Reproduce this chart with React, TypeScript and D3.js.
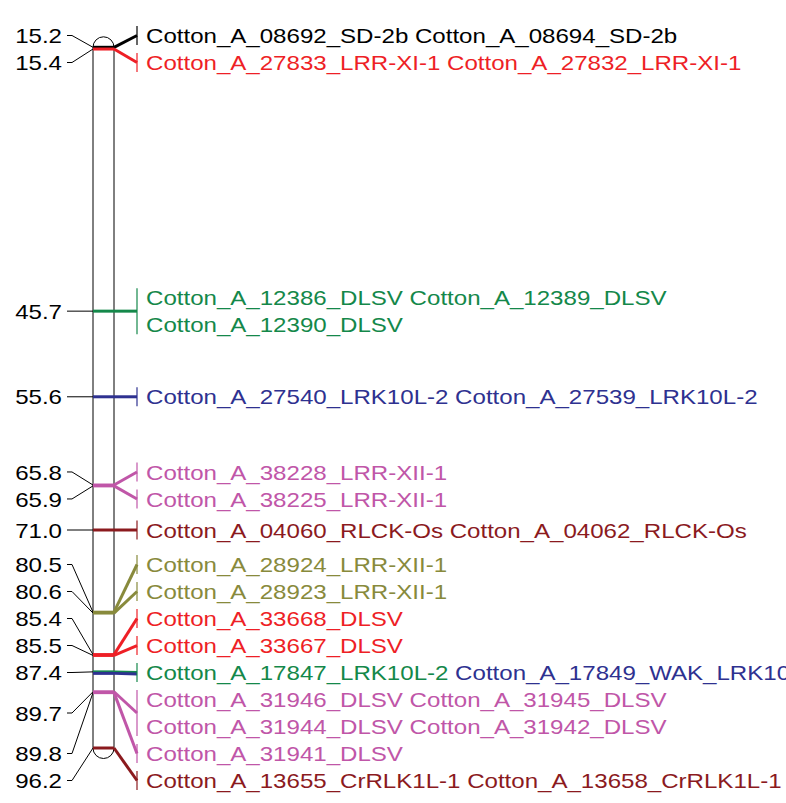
import * as d3 from 'd3';

const WIDTH = 786;
const HEIGHT = 803;
const LINE_H = 27;
const FONT = '"Liberation Sans", Arial, sans-serif';
const FONT_SIZE = 21;
const STRETCH = 1.147;

const CHROM = { left: 93, right: 114, labelX: 137, textX: 146, numX: 62 };

// marker positions (cM)
const positions = [15.2, 15.4, 45.7, 55.6, 65.8, 65.9, 71.0, 80.5, 80.6, 85.4, 85.5, 87.4, 89.7, 89.8, 96.2];

const geneNames: string[][] = [
  ['Cotton_A_08692_SD-2b', 'Cotton_A_08694_SD-2b'],
  ['Cotton_A_27833_LRR-XI-1', 'Cotton_A_27832_LRR-XI-1'],
  ['Cotton_A_12386_DLSV', 'Cotton_A_12389_DLSV', 'Cotton_A_12390_DLSV'],
  ['Cotton_A_27540_LRK10L-2', 'Cotton_A_27539_LRK10L-2'],
  ['Cotton_A_38228_LRR-XII-1'],
  ['Cotton_A_38225_LRR-XII-1'],
  ['Cotton_A_04060_RLCK-Os', 'Cotton_A_04062_RLCK-Os'],
  ['Cotton_A_28924_LRR-XII-1'],
  ['Cotton_A_28923_LRR-XII-1'],
  ['Cotton_A_33668_DLSV'],
  ['Cotton_A_33667_DLSV'],
  ['Cotton_A_17847_LRK10L-2', 'Cotton_A_17849_WAK_LRK10L-2'],
  ['Cotton_A_31946_DLSV', 'Cotton_A_31945_DLSV', 'Cotton_A_31944_DLSV', 'Cotton_A_31942_DLSV'],
  ['Cotton_A_31941_DLSV'],
  ['Cotton_A_13655_CrRLK1L-1', 'Cotton_A_13658_CrRLK1L-1'],
];

const geneGroups: string[][] = [
  ['black', 'black'],
  ['red', 'red'],
  ['green', 'green', 'green'],
  ['navy', 'navy'],
  ['pink'],
  ['pink'],
  ['maroon', 'maroon'],
  ['olive'],
  ['olive'],
  ['red'],
  ['red'],
  ['green', 'navy'],
  ['pink', 'pink', 'pink', 'pink'],
  ['pink'],
  ['maroon', 'maroon'],
];

const colorScale = d3
  .scaleOrdinal<string, string>()
  .domain(['black', 'red', 'green', 'navy', 'pink', 'maroon', 'olive'])
  .range(['#000000', '#ee1f26', '#14884a', '#2e3190', '#c056a8', '#8b1a1e', '#888a3c']);

const GENES_PER_LINE = 2;

function chunk<T>(arr: T[], n: number) {
  const out: T[][] = [];
  for (let i = 0; i < arr.length; i += n) out.push(arr.slice(i, i + n));
  return out;
}

// spread label groups so they don't overlap, each cluster centred on the mean of its ideals
function layoutLabels(ideals: number[], heights: number[], minTop: number, maxBottom: number) {
  type Cluster = { items: number[]; top: number; height: number; sum: number };
  const clusters: Cluster[] = [];
  ideals.forEach((ideal, i) => {
    let c: Cluster = { items: [i], top: ideal - heights[i] / 2, height: heights[i], sum: ideal - heights[i] / 2 };
    while (clusters.length) {
      const prev = clusters[clusters.length - 1];
      if (prev.top + prev.height <= c.top) break;
      clusters.pop();
      // offset of c's items inside the merged cluster is prev.height
      const sum = prev.sum + c.sum - c.items.length * prev.height;
      const items = prev.items.concat(c.items);
      c = { items, height: prev.height + c.height, sum, top: sum / items.length };
    }
    clusters.push(c);
  });
  const tops: number[] = [];
  clusters.forEach((c) => {
    let top = Math.max(minTop, Math.min(c.top, maxBottom - c.height));
    c.items.forEach((i) => {
      tops[i] = top;
      top += heights[i];
    });
  });
  return tops;
}

export default function App() {
  const y = d3.scaleLinear().domain([15.2, 96.2]).range([47.3, 748]);

  const lines = geneNames.map((names, i) =>
    chunk(
      names.map((name, j) => ({ name, color: colorScale(geneGroups[i][j]) })),
      GENES_PER_LINE,
    ),
  );
  const heights = lines.map((l) => l.length * LINE_H);
  const tops = layoutLabels(
    positions.map((p) => y(p)),
    heights,
    22,
    802,
  );

  const y0 = y(positions[0]);
  const y1 = y(positions[positions.length - 1]);
  const r = (CHROM.right - CHROM.left) / 2;
  const chromPath =
    `M${CHROM.left},${y0}A${r},${r} 0 0 1 ${CHROM.right},${y0}` +
    `L${CHROM.right},${y1}A${r},${r} 0 0 1 ${CHROM.left},${y1}Z`;

  return (
    <svg
      width={WIDTH}
      height={HEIGHT}
      style={{ position: 'absolute', left: 0, top: 0, background: '#fff' }}
      fontFamily={FONT}
      fontSize={FONT_SIZE}
    >
      <path d={chromPath} fill='#fff' stroke='#000' strokeWidth={1} />
      {positions.map((p, i) => {
        const ly = y(p);
        const center = tops[i] + heights[i] / 2;
        const colors = Array.from(new Set(geneGroups[i])).map((k) => colorScale(k));
        const half = heights[i] / 2 - 4;
        return (
          <g key={i}>
            {/* left position label and connector */}
            <text
              transform={`translate(${CHROM.numX},${center}) scale(${STRETCH},1)`}
              textAnchor='end'
              dy='0.36em'
              fill='#000'
            >
              {p.toFixed(1)}
            </text>
            <polyline
              points={`${CHROM.numX + 5},${center} ${CHROM.numX + 10},${center} ${CHROM.left},${ly}`}
              fill='none'
              stroke='#000'
              strokeWidth={1}
            />
            {colors.map((c, k) => (
              <g key={k}>
                <line
                  x1={CHROM.left}
                  x2={CHROM.right}
                  y1={ly + k * 1.5}
                  y2={ly + k * 1.5}
                  stroke={c}
                  strokeWidth={3}
                />
                <line
                  x1={CHROM.right}
                  y1={ly + k * 1.5}
                  x2={CHROM.labelX}
                  y2={center + k * 1.5}
                  stroke={c}
                  strokeWidth={3}
                />
              </g>
            ))}
            <line
              x1={CHROM.labelX}
              x2={CHROM.labelX}
              y1={center - half}
              y2={center + half}
              stroke={colors[0]}
              strokeWidth={1.2}
            />
            {lines[i].map((line, j) => (
              <text
                key={j}
                transform={`translate(${CHROM.textX},${tops[i] + LINE_H / 2 + j * LINE_H}) scale(${STRETCH},1)`}
                dy='0.36em'
              >
                {line.map((g, k) => (
                  <tspan key={k} fill={g.color}>
                    {(k > 0 ? ' ' : '') + g.name}
                  </tspan>
                ))}
              </text>
            ))}
          </g>
        );
      })}
    </svg>
  );
}
